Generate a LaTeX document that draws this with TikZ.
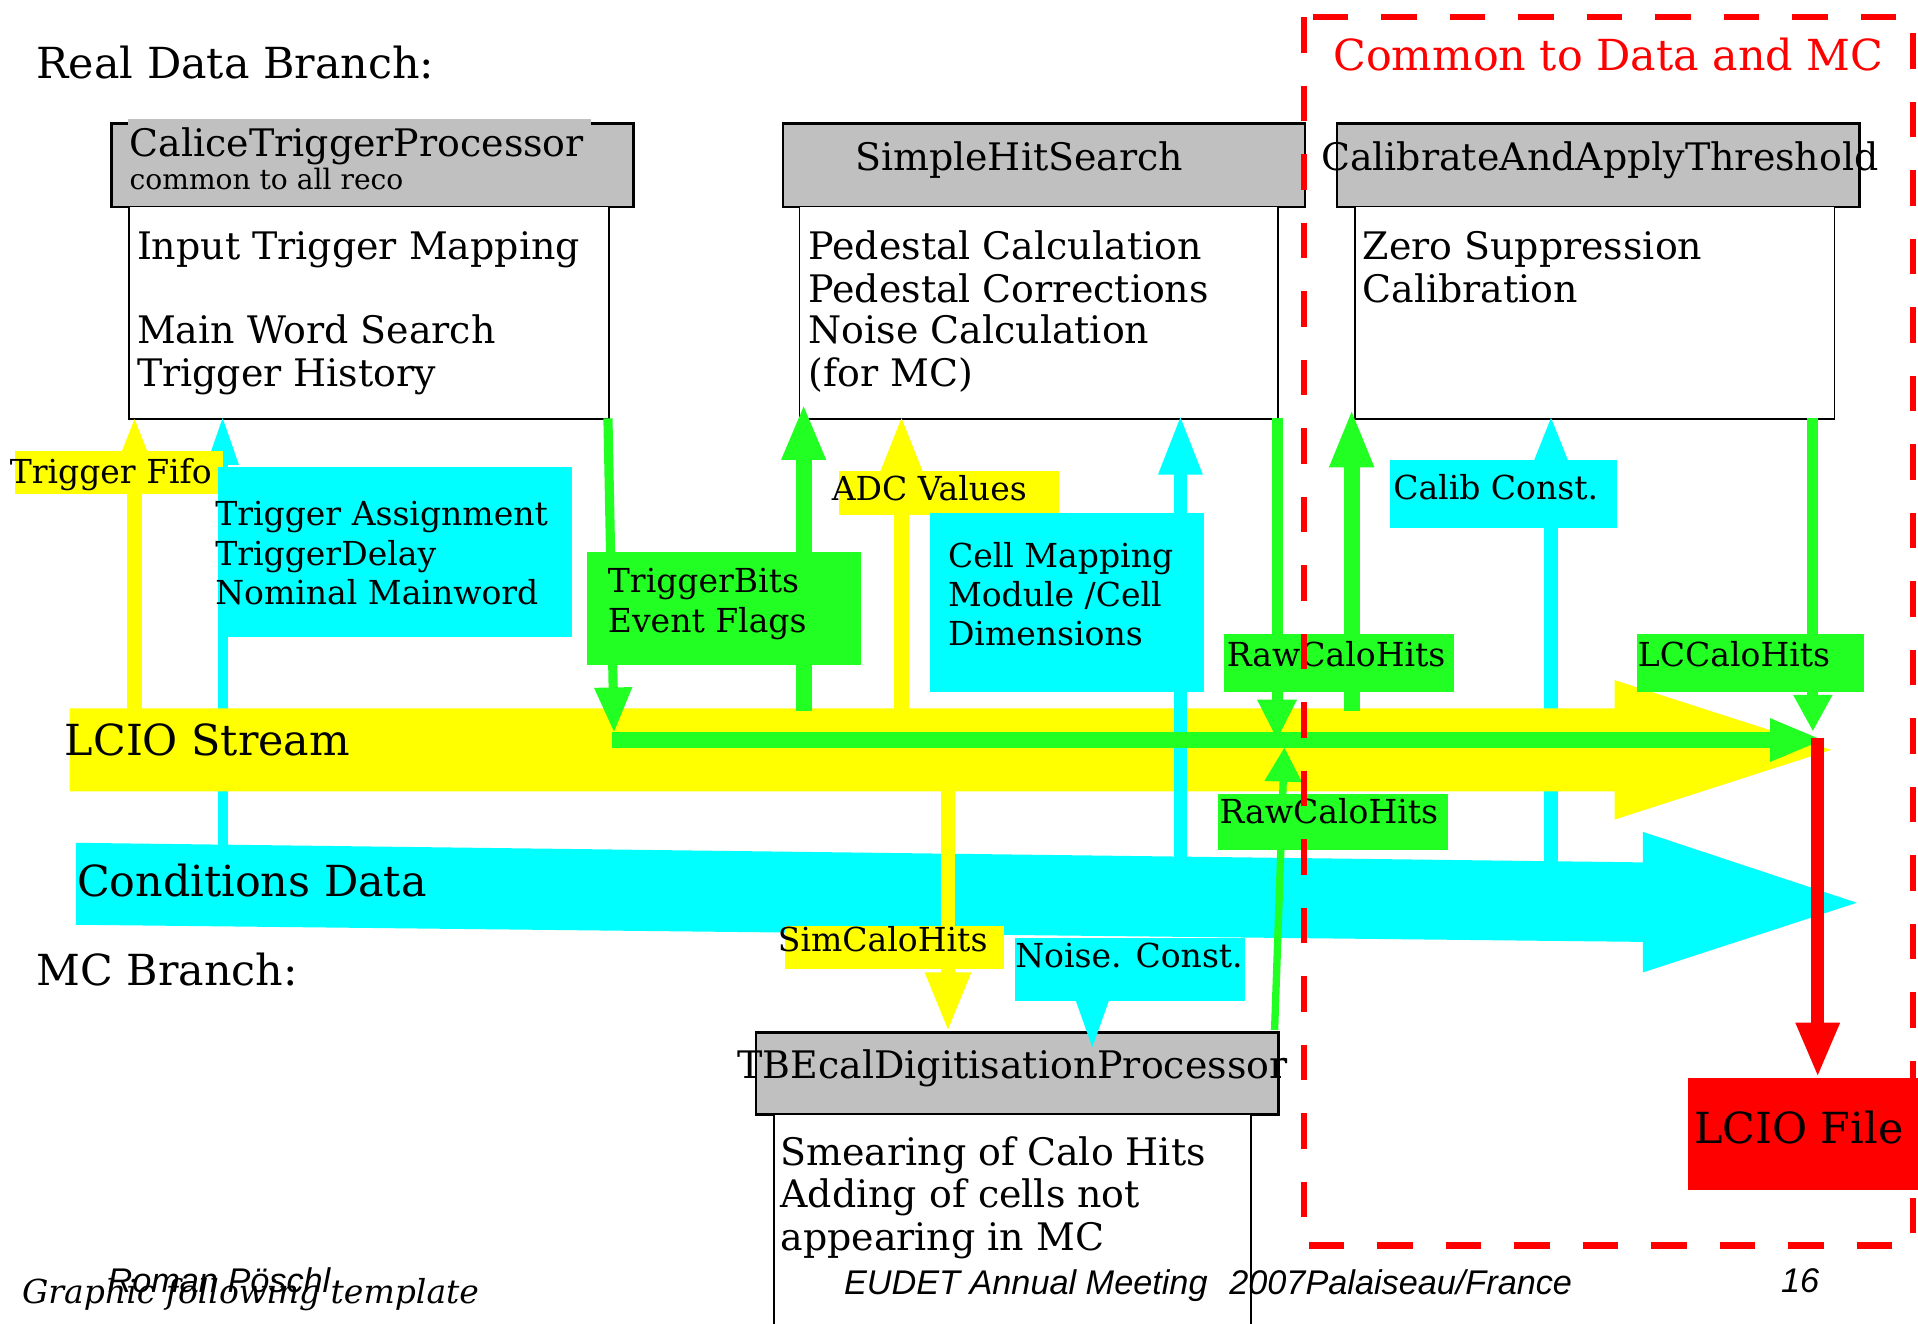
\documentclass[tikz,border=0pt]{standalone}
\usepackage{fontspec}
\setmainfont{DejaVu Serif}
\newfontfamily\footsans{Liberation Sans}
\usetikzlibrary{arrows.meta}

\definecolor{ylw}{HTML}{FFFF00}
\definecolor{cyn}{HTML}{00FFFF}
\definecolor{grn}{HTML}{22FF22}
\definecolor{rd}{HTML}{FF0000}
\definecolor{hdr}{HTML}{C0C0C0}

\newcommand\fHead{\fontsize{35}{42}\selectfont}
\newcommand\fBox{\fontsize{31}{36}\selectfont}
\newcommand\fLab{\fontsize{27}{32}\selectfont}
\newcommand\fSub{\fontsize{23}{27}\selectfont}
\newcommand\fFoot{\fontsize{28}{32}\selectfont}

\begin{document}
\begin{tikzpicture}[x=1pt,y=-1pt,
  txt/.style={anchor=base west, inner sep=0pt, outer sep=0pt},
  hdrbox/.style={draw=black, line width=2pt, fill=hdr, anchor=north west, inner sep=0pt},
  bodybox/.style={draw=black, line width=1.4pt, fill=white, anchor=north west, inner sep=0pt},
  lab/.style={anchor=north west, inner sep=0pt, outer sep=0pt},
  arr/.style n args={4}{draw=#1, line width=#2pt, -{Triangle[length=#3pt,width=#4pt]}},
]
\useasboundingbox (0,0) rectangle (1568,1082);
\fill[white] (0,0) rectangle (1568,1082);

% ---------- processor boxes ----------
\node[hdrbox, minimum width=427pt, minimum height=68pt] (caliceH) at (90,100) {};
\fill[hdr] (105,97.5) rectangle (483,102);
\node[bodybox, minimum width=392pt, minimum height=174pt] (caliceB) at (105,168) {};

\node[hdrbox, minimum width=427pt, minimum height=68pt] (simpleH) at (639,100) {};
\node[bodybox, minimum width=391pt, minimum height=174pt] (simpleB) at (653,168) {};

\node[hdrbox, minimum width=427pt, minimum height=68pt] (calibH) at (1092,100) {};
\node[bodybox, minimum width=392pt, minimum height=174pt] (calibB) at (1107,168) {};

\node[hdrbox, minimum width=427pt, minimum height=67pt] (tbeH) at (617,843) {};
\node[bodybox, minimum width=390pt, minimum height=190pt] (tbeB) at (632,910) {};

\node[lab, fill=rd, minimum width=200pt, minimum height=92pt] (lcioFile) at (1380,881) {};

% ---------- arrow end points ----------
\coordinate (fifoTip) at (110,340);
\coordinate (trgTip) at (182,340);
\coordinate (tbSrc) at (497,342);
\coordinate (tbTip) at (502,599);
\coordinate (shTip) at (657,330);
\coordinate (adcTip) at (737,339);
\coordinate (cmTip) at (965,339);
\coordinate (rawSrc) at (1044,342);
\coordinate (rawTip) at (1044,605);
\coordinate (rawUpSrc) at (1042,842);
\coordinate (rawUpTip) at (1050,611);
\coordinate (catTip) at (1105,334);
\coordinate (ccTip) at (1268,339);
\coordinate (lcSrc) at (1482,342);
\coordinate (lcTip) at (1482,598);
\coordinate (barSrc) at (500,605);
\coordinate (barTip) at (1492,605);
\coordinate (fileSrc) at (1486,603);
\coordinate (simTip) at (775,844);
\coordinate (noiseTip) at (893,856);

% conditions lines running behind the LCIO stream
\draw[arr={cyn}{8}{40}{24}] (trgTip |- 0,693) -- (trgTip);
\draw[arr={cyn}{11}{45}{30}] (ccTip |- 0,706) -- (ccTip);

% ---------- conditions data band ----------
\fill[cyn] (62,689) -- (1343,705) -- (1343,680) -- (1518,738) -- (1343,795)
  -- (1343,770) -- (62,756) -- cycle;

% ---------- LCIO stream band ----------
\fill[ylw] (57,579) -- (1320,579) -- (1320,556) -- (1497,613) -- (1320,670)
  -- (1320,647) -- (57,647) -- cycle;

% conditions line crossing the stream
\draw[arr={cyn}{11}{49}{33}] (cmTip |- 0,702) -- (cmTip);

% ---------- data flow arrows ----------
\draw[arr={ylw}{12}{40}{26}] (fifoTip |- 0,581) -- (fifoTip);
\draw[arr={grn}{7.5}{37}{29}] (tbSrc) -- (tbTip);
\draw[arr={grn}{13}{46}{33}] (shTip |- 0,581) -- (shTip);
\draw[arr={ylw}{13}{47}{31}] (adcTip |- 0,581) -- (adcTip);
\draw[arr={grn}{9}{33}{30}] (rawSrc) -- (rawTip);
\draw[arr={grn}{6}{28}{29}] (rawUpSrc) -- (rawUpTip);
\draw[arr={grn}{13}{48}{33}] (catTip |- 0,581) -- (catTip);
\draw[arr={grn}{9}{30}{30}] (lcSrc) -- (lcTip);
\draw[arr={ylw}{12}{49}{34}] (simTip |- 0,645) -- (simTip);

% ---------- labels ----------
\node[lab, fill=ylw, minimum width=170pt, minimum height=35pt] (fifoL) at (12,369) {};
\node[lab, fill=cyn, minimum width=290pt, minimum height=139pt] (trgL) at (178,382) {};
\node[lab, fill=grn, minimum width=224pt, minimum height=93pt] (tbL) at (480,451) {};
\node[lab, fill=ylw, minimum width=180pt, minimum height=36pt] (adcL) at (686,385) {};
\node[lab, fill=cyn, minimum width=224pt, minimum height=147pt] (cmL) at (760,419) {};
\node[lab, fill=grn, minimum width=188pt, minimum height=48pt] (rawL) at (1001,518) {};
\node[lab, fill=cyn, minimum width=186pt, minimum height=56pt] (ccL) at (1136,376) {};
\node[lab, fill=grn, minimum width=186pt, minimum height=48pt] (lcL) at (1338,518) {};
\node[lab, fill=grn, minimum width=188pt, minimum height=46pt] (rawUpL) at (996,649) {};
\node[lab, fill=ylw, minimum width=179pt, minimum height=35pt] (simL) at (642,757) {};
\node[lab, fill=cyn, minimum width=188pt, minimum height=51pt] (noiseL) at (830,767) {};
\draw[arr={cyn}{0.1}{38}{27}] (noiseL.south -| noiseTip) -- (noiseTip);

% collection flowing along the stream
\draw[arr={grn}{13}{45}{32}] (barSrc) -- (barTip);

% ---------- texts ----------
\node[txt, font=\fHead] at (30,64) {Real Data Branch:};
\node[txt, font=\fHead] at (30,806) {MC Branch:};
\node[txt, font=\fHead] at (53,618) {LCIO Stream};
\node[txt, font=\fHead] at (63,733) {Conditions Data};
\node[txt, font=\fHead] at (1385,935) {LCIO File};
\node[txt, font=\fHead, text=rd] at (1090,58) {Common to Data and MC};

\node[txt, font=\fBox] at (106,128) {CaliceTriggerProcessor};
\node[txt, font=\fSub] at (106,155) {common to all reco};
\node[txt, font=\fBox] at (112,212) {Input Trigger Mapping};
\node[txt, font=\fBox] at (112,281) {Main Word Search};
\node[txt, font=\fBox] at (112,316) {Trigger History};

\node[txt, font=\fBox] at (699,139) {SimpleHitSearch};
\node[txt, font=\fBox] at (661,212) {Pedestal Calculation};
\node[txt, font=\fBox] at (661,247) {Pedestal Corrections};
\node[txt, font=\fBox] at (661,281) {Noise Calculation};
\node[txt, font=\fBox] at (661,316) {(for MC)};

\node[txt, font=\fBox] at (1080,139) {CalibrateAndApplyThreshold};
\node[txt, font=\fBox] at (1114,212) {Zero Suppression};
\node[txt, font=\fBox] at (1114,247) {Calibration};

\node[txt, font=\fBox] at (603,882) {TBEcalDigitisationProcessor};
\node[txt, font=\fBox] at (638,953) {Smearing of Calo Hits};
\node[txt, font=\fBox] at (638,987) {Adding of cells not};
\node[txt, font=\fBox] at (638,1022) {appearing in MC};

\node[txt, font=\fLab] at (8,395) {Trigger Fifo};
\node[txt, font=\fLab] at (176,430) {Trigger Assignment};
\node[txt, font=\fLab] at (176,462) {TriggerDelay};
\node[txt, font=\fLab] at (176,494) {Nominal Mainword};
\node[txt, font=\fLab] at (497,484) {TriggerBits};
\node[txt, font=\fLab] at (497,517) {Event Flags};
\node[txt, font=\fLab] at (680,409) {ADC Values};
\node[txt, font=\fLab] at (775,464) {Cell Mapping};
\node[txt, font=\fLab] at (775,496) {Module /Cell};
\node[txt, font=\fLab] at (775,528) {Dimensions};
\node[txt, font=\fLab] at (1003,545) {RawCaloHits};
\node[txt, font=\fLab] at (1139,408) {Calib Const.};
\node[txt, font=\fLab] at (1339,545) {LCCaloHits};
\node[txt, font=\fLab] at (997,673) {RawCaloHits};
\node[txt, font=\fLab] at (636,778) {SimCaloHits};
\node[txt, font=\fLab] at (830,791) {Noise. Const.};

% ---------- footer ----------
\node[txt, font=\fontsize{27}{32}\selectfont\itshape] at (18,1066) {Graphic following template};
\node[txt, font=\fFoot\footsans\itshape] at (88,1057) {Roman Pöschl};
\node[txt, font=\fFoot\footsans\itshape] at (690,1058) {EUDET Annual Meeting};
\node[txt, font=\fFoot\footsans\itshape] at (1005,1058) {2007Palaiseau/France};
\node[txt, font=\fFoot\footsans\itshape] at (1456,1057) {16};

% ---------- output to file ----------
\draw[arr={rd}{11}{45}{33}] (fileSrc) -- (lcioFile.north -| fileSrc);

% ---------- region common to data and MC ----------
\draw[rd, line width=5.5pt, dash pattern=on 29pt off 27pt]
  (1066,14) -- (1066,1018) -- (1564,1018) -- (1564,14) -- cycle;
\end{tikzpicture}
\end{document}
